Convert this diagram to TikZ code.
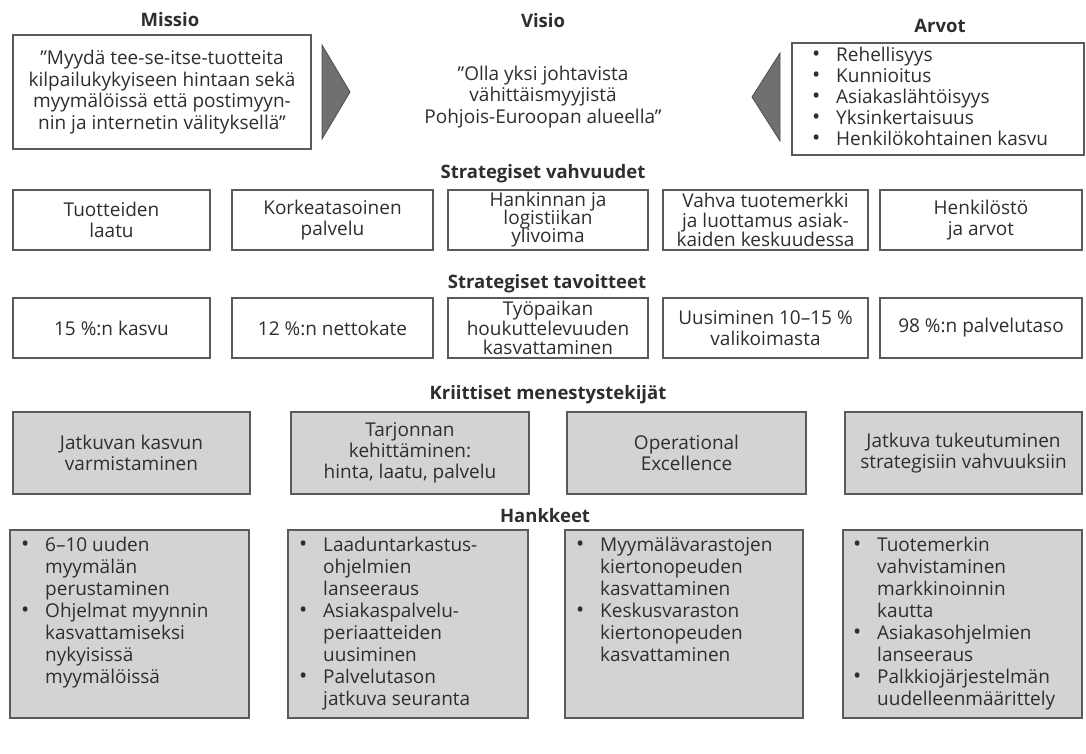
\documentclass[tikz,border=0pt]{standalone}
\usepackage{fontspec}
\setmainfont{Open Sans}
\definecolor{boxline}{HTML}{5A5A5A}
\definecolor{boxgray}{HTML}{D3D3D3}
\definecolor{txt}{HTML}{2E2E2E}
\definecolor{tri}{HTML}{707070}
\newcommand\blist[1]{{\renewcommand\arraystretch{1}\begin{tabular}{@{}p{24pt}@{}l@{}}#1\end{tabular}}}
\newcommand\bul{\scalebox{1.15}{\textbullet}}
\newcommand\tightfont[1]{\fontsize{19}{#1}\selectfont\lineskiplimit=-20pt\relax}
\begin{document}
\begin{tikzpicture}[x=1pt,y=-1pt,
  every node/.style={text=txt, font=\fontsize{19}{21}\selectfont, inner sep=0pt},
  head/.style={font=\fontsize{18.5}{21}\selectfont\bfseries},
  wbox/.style={draw=boxline, line width=1.4pt, fill=white, align=center},
  gbox/.style={draw=boxline, line width=1.4pt, fill=boxgray, align=center},
  row1/.style={wbox, minimum height=60pt},
  row3/.style={gbox, minimum height=82pt},
  row4/.style={gbox, minimum height=188pt},
  listtext/.style={anchor=north west, align=left, font=\fontsize{19}{22}\selectfont},
  arrowtri/.style={fill=tri, draw=tri!70!black, line width=0.8pt}]
\useasboundingbox[fill=white] (0,0) rectangle (1086,753);

% headings
\node[head] (hmis) at (170,20) {Missio};
\node[head] (hvis) at (543,21) {Visio};
\node[head] (harv) at (940,26) {Arvot};
\node[head] (hvah) at (543,174) {Strategiset vahvuudet};
\node[head] (htav) at (547,284) {Strategiset tavoitteet};
\node[head] (hkri) at (548,395) {Kriittiset menestystekijät};
\node[head] (hhan) at (545,516) {Hankkeet};

% top row
\node[wbox, minimum width=298pt, minimum height=114pt, font=\fontsize{19}{21.5}\selectfont] (mis) at (162,92)
  {"Myydä tee-se-itse-tuotteita\\kilpailukykyiseen hintaan sekä\\myymälöissä että postimyyn-\\nin ja internetin välityksellä"};
\node[align=center, font=\fontsize{19}{21.5}\selectfont] (vis) at (543,97)
  {"Olla yksi johtavista\\vähittäismyyjistä\\Pohjois-Euroopan alueella"};
\node[wbox, minimum width=292pt, minimum height=112pt] (arv) at (938,99) {};
\node[anchor=west, font=\fontsize{19}{21}\selectfont] (arvt) at (812,99)
  {\blist{\bul & Rehellisyys\\ \bul & Kunnioitus\\ \bul & Asiakaslähtöisyys\\ \bul & Yksinkertaisuus\\ \bul & Henkilökohtainen kasvu}};
\fill[arrowtri] (322,45) -- (350,92) -- (322,139) -- cycle;
\fill[arrowtri] (780,53) -- (752,97) -- (780,141) -- cycle;

% strategiset vahvuudet
\node[row1, minimum width=197pt] (v1) at (111.5,220) {Tuotteiden\\laatu};
\node[row1, minimum width=201pt] (v2) at (332.5,220) {Korkeatasoinen\\palvelu};
\node[row1, minimum width=200pt, font=\tightfont{18}] (v3) at (548,220) {Hankinnan ja\\logistiikan\\ylivoima};
\node[row1, minimum width=205pt, font=\tightfont{19.5}] (v4) at (765.5,220) {Vahva tuotemerkki\\ja luottamus asiak-\\kaiden keskuudessa};
\node[row1, minimum width=202pt] (v5) at (981,220) {Henkilöstö\\ja arvot};

% strategiset tavoitteet
\node[row1, minimum width=197pt] (t1) at (111.5,328) {15 \%:n kasvu};
\node[row1, minimum width=201pt] (t2) at (332.5,328) {12 \%:n nettokate};
\node[row1, minimum width=200pt, font=\tightfont{19.5}] (t3) at (548,328) {Työpaikan\\houkuttelevuuden\\kasvattaminen};
\node[row1, minimum width=205pt] (t4) at (765.5,328) {Uusiminen 10–15 \%\\valikoimasta};
\node[row1, minimum width=202pt] (t5) at (981,328) {98 \%:n palvelutaso};

% kriittiset menestystekijat
\node[row3, minimum width=237pt] (k1) at (131.5,453) {Jatkuvan kasvun\\varmistaminen};
\node[row3, minimum width=238pt] (k2) at (410,453) {Tarjonnan\\kehittäminen:\\hinta, laatu, palvelu};
\node[row3, minimum width=239pt] (k3) at (686.5,453) {Operational\\Excellence};
\node[row3, minimum width=237pt] (k4) at (963.5,453) {Jatkuva tukeutuminen\\strategisiin vahvuuksiin};

% hankkeet
\node[row4, minimum width=239pt] (p1) at (129.5,624) {};
\node[row4, minimum width=240pt] (p2) at (408,624) {};
\node[row4, minimum width=238pt] (p3) at (684,624) {};
\node[row4, minimum width=239pt] (p4) at (962.5,624) {};
\node[listtext] (p1t) at (21,536) {\blist{\bul & 6–10 uuden\\ & myymälän\\ & perustaminen\\ \bul & Ohjelmat myynnin\\ & kasvattamiseksi\\ & nykyisissä\\ & myymälöissä}};
\node[listtext] (p2t) at (299,536) {\blist{\bul & Laaduntarkastus-\\ & ohjelmien\\ & lanseeraus\\ \bul & Asiakaspalvelu-\\ & periaatteiden\\ & uusiminen\\ \bul & Palvelutason\\ & jatkuva seuranta}};
\node[listtext] (p3t) at (576,536) {\blist{\bul & Myymälävarastojen\\ & kiertonopeuden\\ & kasvattaminen\\ \bul & Keskusvaraston\\ & kiertonopeuden\\ & kasvattaminen}};
\node[listtext] (p4t) at (853,536) {\blist{\bul & Tuotemerkin\\ & vahvistaminen\\ & markkinoinnin\\ & kautta\\ \bul & Asiakasohjelmien\\ & lanseeraus\\ \bul & Palkkiojärjestelmän\\ & uudelleenmäärittely}};
\end{tikzpicture}
\end{document}
